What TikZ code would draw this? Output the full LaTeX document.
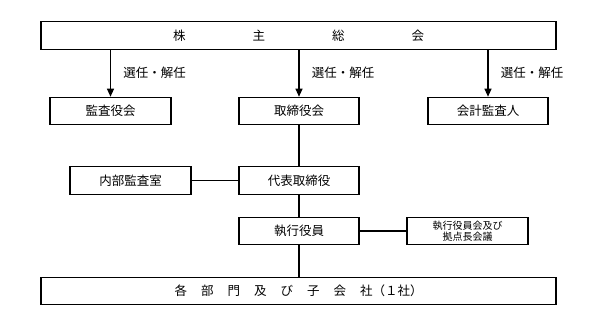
\documentclass[tikz,border=0pt]{standalone}
\usepackage{fontspec}
\setmainfont{Noto Sans CJK JP}
\usetikzlibrary{arrows.meta}
\begin{document}
\begin{tikzpicture}[x=1pt,y=-1pt,font=\fontsize{12.5}{14}\selectfont,
  box/.style={draw,line width=1.1pt,inner sep=0pt,minimum height=27.5pt},
  small/.style={font=\fontsize{10}{11.5}\selectfont,align=center},
  arr/.style={-{Triangle[length=8pt,width=7pt]},line width=1.1pt},
  link/.style={line width=1.1pt}]
\useasboundingbox (0,0) rectangle (594,331);
% boxes
\node[box,minimum width=515pt] (soukai) at (298.5,35.5) {株\hspace{67pt}主\hspace{67pt}総\hspace{67pt}会};
\node[box,minimum width=121pt] (kansayaku) at (110.5,111) {監査役会};
\node[box,minimum width=120pt] (torishimari) at (299,111) {取締役会};
\node[box,minimum width=120pt] (kaikei) at (488,111) {会計監査人};
\node[box,minimum width=121pt] (naibu) at (130.5,180.5) {内部監査室};
\node[box,minimum width=120pt] (daihyo) at (299,180.5) {代表取締役};
\node[box,minimum width=120pt] (shikko) at (299,231) {執行役員};
\node[box,small,minimum width=121pt] (kaigi) at (467.5,231) {執行役員会及び\\拠点長会議};
\node[box,minimum width=515pt] (bumon) at (298.5,291) {各\hspace{14pt}部\hspace{14pt}門\hspace{14pt}及\hspace{14pt}び\hspace{14pt}子\hspace{14pt}会\hspace{14pt}社（１社）};
% arrows
\draw[arr] (soukai.south -| kansayaku) -- node[right,xshift=9pt]{選任・解任} (kansayaku.north);
\draw[arr] (soukai.south -| torishimari) -- node[right,xshift=9pt]{選任・解任} (torishimari.north);
\draw[arr] (soukai.south -| kaikei) -- node[right,xshift=9pt]{選任・解任} (kaikei.north);
% lines
\draw[link] (torishimari) -- (daihyo);
\draw[link] (daihyo) -- (shikko);
\draw[link] (shikko.south) -- (shikko.south |- bumon.north);
\draw[link] (naibu) -- (daihyo);
\draw[link] (shikko) -- (kaigi);
\end{tikzpicture}
\end{document}
